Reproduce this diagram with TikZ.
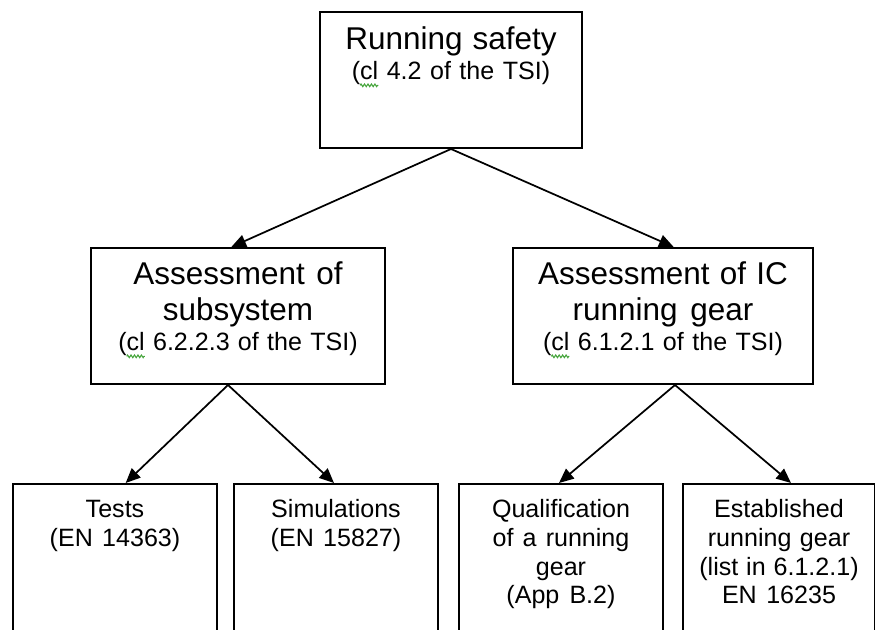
\documentclass[tikz,border=0pt]{standalone}
\usepackage{fontspec}
\setmainfont{Liberation Sans}
\usetikzlibrary{arrows.meta,decorations.pathmorphing}

\definecolor{spellgreen}{RGB}{70,165,60}
\newcommand{\bigtxt}{\fontsize{23.6}{27}\selectfont\spaceskip=0pt\relax}
\newcommand{\smalltxt}{\fontsize{18.8}{21.4}\selectfont\spaceskip=0pt\relax}
\newlength{\spellw}
\newcommand{\spellmark}[1]{\settowidth{\spellw}{#1}\rlap{\tikz[overlay,baseline=0pt]
  \draw[spellgreen, line width=0.8pt, decorate, decoration={zigzag, amplitude=1pt, segment length=2.6pt}]
  (0pt,-4pt) -- (\spellw,-4pt);}#1}

\begin{document}
\begin{tikzpicture}[x=0.75pt,y=-0.75pt,
    box/.style={draw, line width=1.5pt, anchor=north west, inner sep=0pt, minimum height=102pt},
    lowbox/.style={box, minimum width=153pt, minimum height=150pt},
    txt/.style={anchor=base, align=center, inner sep=0pt},
    arr/.style={line width=1.3pt, -{Triangle[length=11pt,width=9.5pt]}}]
  \useasboundingbox (0,0) rectangle (875,630);
  \clip (0,0) rectangle (875,630);
  % top
  \node[box, minimum width=196.5pt,
    label={[txt, font=\bigtxt, text width=190pt, yshift=-29.25pt]north:{\bigtxt Running safety\\[-4.5pt]
      {\smalltxt (\spellmark{cl} 4.2 of the TSI)}}}] (safety) at (319,11) {};
  % second level
  \node[box, minimum width=220.5pt,
    label={[txt, font=\bigtxt, text width=215pt, yshift=-28.5pt]north:{\bigtxt Assessment of\\subsystem\\[-4.5pt]
      {\smalltxt (\spellmark{cl} 6.2.2.3 of the TSI)}}}] (subsys) at (90,247) {};
  \node[box, minimum width=225pt,
    label={[txt, font=\bigtxt, text width=220pt, yshift=-28.5pt]north:{\bigtxt Assessment of IC\\running gear\\[-4.5pt]
      {\smalltxt (\spellmark{cl} 6.1.2.1 of the TSI)}}}] (gear) at (512,247) {};
  % third level
  \node[lowbox,
    label={[txt, font=\smalltxt, text width=150pt, yshift=-26.25pt]north:{\smalltxt Tests\\(EN 14363)}}] (tests) at (12,483) {};
  \node[lowbox,
    label={[txt, font=\smalltxt, text width=150pt, yshift=-26.25pt]north:{\smalltxt Simulations\\(EN 15827)}}] (simul) at (233,483) {};
  \node[lowbox,
    label={[txt, font=\smalltxt, text width=150pt, yshift=-26.25pt]north:{\smalltxt Qualification\\of a running\\gear\\(App B.2)}}] (qualif) at (458,483) {};
  \node[lowbox, minimum width=144pt,
    label={[txt, font=\smalltxt, text width=140pt, yshift=-26.25pt]north:{\smalltxt Established\\running gear\\(list in 6.1.2.1)\\EN 16235}}] (establ) at (682,483) {};

  \draw[arr] (safety.south) -- ([xshift=-5pt]subsys.north);
  \draw[arr] (safety.south) -- ([xshift=8pt]gear.north);
  \draw[arr] ([xshift=-7.5pt]subsys.south) -- ([xshift=8pt]tests.north);
  \draw[arr] ([xshift=-7.5pt]subsys.south) -- ([xshift=-1.5pt]simul.north);
  \draw[arr] ([xshift=9pt]gear.south) -- ([xshift=-1.5pt]qualif.north);
  \draw[arr] ([xshift=9pt]gear.south) -- ([xshift=9pt]establ.north);
\end{tikzpicture}
\end{document}
